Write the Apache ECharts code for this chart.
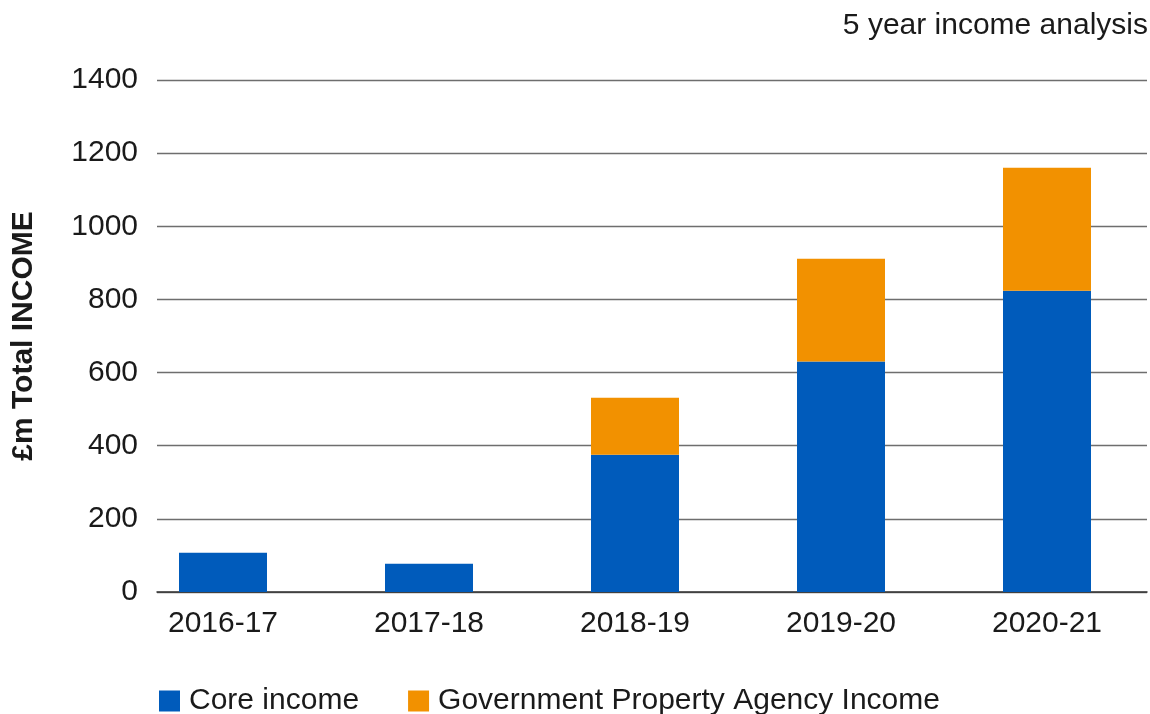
<!DOCTYPE html>
<html>
<head>
<meta charset="utf-8">
<title>5 year income analysis</title>
<script src="https://cdn.jsdelivr.net/npm/echarts@6/dist/echarts.min.js"></script>
<style>
  html, body { margin: 0; padding: 0; background: #fff; }
  #chart { width: 1150px; height: 714px; }
</style>
</head>
<body>
<div id="chart"></div>
<script>
// Financial years on the category axis
var years = ['2016-17', '2017-18', '2018-19', '2019-20', '2020-21'];
// Income in £m, stacked per year
var coreIncome = [107, 77, 375, 630, 824];
var gpaIncome = [0, 0, 156, 281, 336];
// Value axis ticks
var yTicks = [0, 200, 400, 600, 800, 1000, 1200, 1400];

var FONT = "'Liberation Sans', Arial, Helvetica, sans-serif";
var TEXT = '#1a1a1a';
var yMin = yTicks[0];
var yMax = yTicks[yTicks.length - 1];
var yStep = yTicks[1] - yTicks[0];

var chart = echarts.init(document.getElementById('chart'), null, { renderer: 'canvas' });

chart.setOption({
  animation: false,
  backgroundColor: '#ffffff',
  textStyle: { fontFamily: FONT },
  title: {
    text: '5 year income analysis',
    right: 2,
    top: 11,
    padding: 0,
    textStyle: { fontFamily: FONT, fontSize: 30, fontWeight: 'normal', color: TEXT }
  },
  legend: {
    left: 159,
    top: 686,
    padding: 0,
    itemWidth: 21,
    itemHeight: 21,
    itemGap: 49,
    icon: 'rect',
    textStyle: { fontFamily: FONT, fontSize: 30, color: TEXT, lineHeight: 30, padding: [0, 0, 0, 4] },
    data: ['Core income', 'Government Property Agency Income']
  },
  // grid 0 carries the value scale and the horizontal rules; grid 1 carries the bars
  grid: [
    { left: 157, top: 80, width: 990, height: 512 },
    { left: 120, top: 80, width: 1040, height: 512 }
  ],
  xAxis: [
    {
      gridIndex: 0,
      type: 'category',
      data: years,
      axisLine: { show: true, lineStyle: { color: '#333333', width: 1.5 } },
      axisTick: { show: false },
      axisLabel: { show: false },
      splitLine: { show: false }
    },
    {
      gridIndex: 1,
      type: 'category',
      data: years,
      boundaryGap: true,
      axisLine: { show: false },
      axisTick: { show: false },
      axisLabel: { fontFamily: FONT, fontSize: 30, color: TEXT, margin: 17 },
      splitLine: { show: false }
    }
  ],
  yAxis: [
    {
      gridIndex: 0,
      type: 'value',
      min: yMin,
      max: yMax,
      interval: yStep,
      name: '£m Total INCOME',
      nameLocation: 'middle',
      nameRotate: 90,
      nameGap: 118,
      nameTextStyle: { fontFamily: FONT, fontSize: 30, fontWeight: 'bold', color: TEXT },
      axisLine: { show: false },
      axisTick: { show: false },
      axisLabel: {
        fontFamily: FONT, fontSize: 30, color: TEXT, margin: 19,
        formatter: function (v) { return String(v); }
      },
      splitLine: { show: true, lineStyle: { color: '#6e6e6e', width: 1.3 } }
    },
    {
      gridIndex: 1,
      type: 'value',
      min: yMin,
      max: yMax,
      interval: yStep,
      show: false,
      splitLine: { show: false }
    }
  ],
  series: [
    {
      name: 'Core income',
      type: 'bar',
      xAxisIndex: 1,
      yAxisIndex: 1,
      stack: 'income',
      barWidth: 88,
      itemStyle: { color: '#005BBB' },
      data: coreIncome
    },
    {
      name: 'Government Property Agency Income',
      type: 'bar',
      xAxisIndex: 1,
      yAxisIndex: 1,
      stack: 'income',
      barWidth: 88,
      itemStyle: { color: '#F29100' },
      data: gpaIncome
    }
  ]
});
</script>
</body>
</html>
